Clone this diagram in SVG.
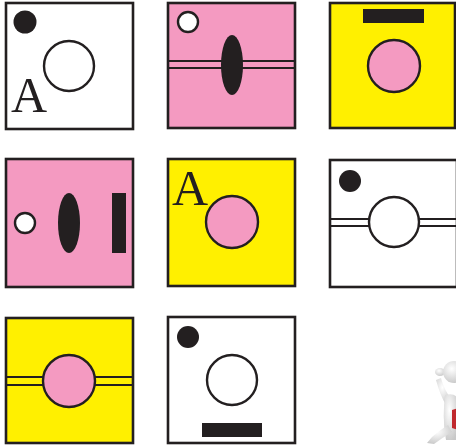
<svg xmlns="http://www.w3.org/2000/svg" width="456" height="447" viewBox="0 0 456 447">
<defs>
<style>
.box{stroke:#231f20;stroke-width:2.6}
.w{fill:#ffffff}.p{fill:#f49ac1}.y{fill:#fff000}
.ring{stroke:#231f20;stroke-width:2.4}
.blk{fill:#231f20}
.ln{stroke:#231f20;stroke-width:2.2;fill:none}
.A{font-family:"Liberation Serif",serif;font-size:50px;fill:#231f20}
</style>
<radialGradient id="g" cx="0.4" cy="0.35" r="0.7">
<stop offset="0" stop-color="#ffffff"/><stop offset="1" stop-color="#c8c8c8"/>
</radialGradient>
</defs>
<rect width="456" height="447" fill="#ffffff"/>

<g id="n1">
<rect class="box w" x="6" y="3" width="127" height="126"/>
<circle class="blk" cx="25" cy="22" r="11.5"/>
<circle class="ring w" cx="69" cy="66" r="25"/>
<text class="A" x="11" y="112">A</text>
</g>

<g id="n2">
<rect class="box p" x="168" y="3" width="127" height="125"/>
<line class="ln" x1="168" y1="61" x2="295" y2="61"/>
<line class="ln" x1="168" y1="68" x2="295" y2="68"/>
<ellipse class="blk" cx="232" cy="65" rx="11" ry="30"/>
<circle class="ring w" cx="188" cy="22" r="10"/>
</g>

<g id="n3">
<rect class="box y" x="330" y="3" width="125" height="125"/>
<rect class="blk" x="363" y="9" width="61" height="14"/>
<circle class="ring p" cx="394" cy="66" r="26"/>
</g>

<g id="n4">
<rect class="box p" x="6" y="159" width="127" height="128"/>
<circle class="ring w" cx="25" cy="223" r="10"/>
<ellipse class="blk" cx="69" cy="223" rx="11" ry="30"/>
<rect class="blk" x="112" y="193" width="14" height="60"/>
</g>

<g id="n5">
<rect class="box y" x="168" y="159" width="127" height="127"/>
<text class="A" x="172" y="205">A</text>
<circle class="ring p" cx="232" cy="222" r="26"/>
</g>

<g id="n6">
<rect class="box w" x="330" y="160" width="127" height="127"/>
<circle class="blk" cx="350" cy="181" r="11"/>
<line class="ln" x1="330" y1="219" x2="456" y2="219"/>
<line class="ln" x1="330" y1="226" x2="456" y2="226"/>
<circle class="ring w" cx="394" cy="222" r="25"/>
</g>

<g id="n7">
<rect class="box y" x="6" y="318" width="127" height="125"/>
<line class="ln" x1="6" y1="377" x2="133" y2="377"/>
<line class="ln" x1="6" y1="385" x2="133" y2="385"/>
<circle class="ring p" cx="69" cy="381" r="26"/>
</g>

<g id="n8">
<rect class="box w" x="168" y="317" width="127" height="126"/>
<circle class="blk" cx="188" cy="337" r="11"/>
<circle class="ring w" cx="232" cy="380" r="25"/>
<rect class="blk" x="202" y="423" width="60" height="14"/>
</g>

<g id="figure">
<path d="M436 380 Q440 395 446 405 L452 400 Q444 390 441 378 Z" fill="url(#g)"/>
<ellipse cx="440" cy="372" rx="5" ry="4" fill="url(#g)"/>
<circle cx="454" cy="372" r="11" fill="url(#g)"/>
<path d="M445 395 Q456 392 458 400 L458 440 L446 440 Q442 420 445 395 Z" fill="url(#g)"/>
<path d="M452 410 L458 408 L458 430 L452 428 Z" fill="#c0282d"/>
<path d="M448 425 Q440 430 432 437 L427 443 L434 444 Q442 438 452 432 Z" fill="url(#g)"/>
</g>
</svg>
